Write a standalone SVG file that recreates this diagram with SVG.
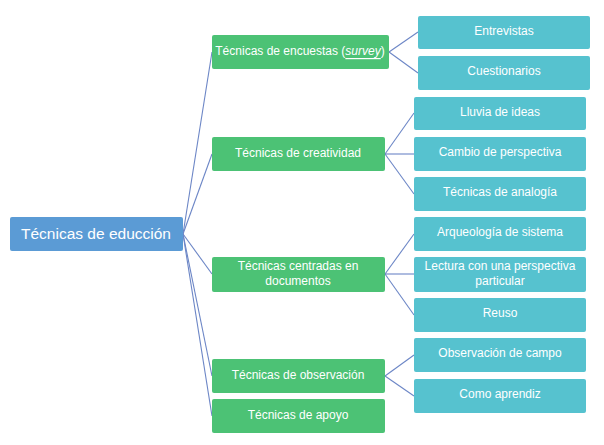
<svg xmlns="http://www.w3.org/2000/svg" width="604" height="445" viewBox="0 0 604 445">
<style>
.root{fill:#5B9BD5}
.g{fill:#4CC275}
.b{fill:#56C2CF}
text{font-family:"Liberation Sans",Arial,sans-serif;fill:#fff;text-anchor:middle;dominant-baseline:central}
.t{font-size:12px}
.rt{font-size:15.5px}
.sv{font-style:italic;text-decoration:underline wavy #D9534F}
#connectors line{stroke:#6C86C6;stroke-width:1.1;fill:none}
</style>
<rect width="604" height="445" fill="#fff"/>
<g id="connectors">
<line x1="183" y1="234" x2="212" y2="52"/>
<line x1="183" y1="234" x2="212" y2="154"/>
<line x1="183" y1="234" x2="212" y2="274"/>
<line x1="183" y1="234" x2="212" y2="376"/>
<line x1="183" y1="234" x2="212" y2="416"/>
<line x1="389" y1="52" x2="418" y2="32"/>
<line x1="389" y1="52" x2="418" y2="73"/>
<line x1="385" y1="154" x2="414" y2="113"/>
<line x1="385" y1="154" x2="414" y2="154"/>
<line x1="385" y1="154" x2="414" y2="194"/>
<line x1="385" y1="274" x2="414" y2="234"/>
<line x1="385" y1="274" x2="414" y2="274"/>
<line x1="385" y1="274" x2="414" y2="315"/>
<line x1="385" y1="376" x2="414" y2="355"/>
<line x1="385" y1="376" x2="414" y2="396"/>
</g>
<g id="root"><rect class="root" x="10" y="217" width="173" height="34" rx="2"/><text class="rt" x="96" y="233">Técnicas de educción</text></g>
<g id="encuestas"><rect class="g" x="212" y="35" width="177" height="34" rx="2"/><text class="t" x="300" y="51">Técnicas de encuestas (<tspan class="sv">survey</tspan>)</text></g>
<g id="creatividad"><rect class="g" x="212" y="137" width="173" height="34" rx="2"/><text class="t" x="298" y="153">Técnicas de creatividad</text></g>
<g id="documentos"><rect class="g" x="212" y="257" width="173" height="35" rx="2"/><text class="t" x="298" y="266">Técnicas centradas en</text><text class="t" x="298" y="281">documentos</text></g>
<g id="observacion"><rect class="g" x="212" y="359" width="173" height="34" rx="2"/><text class="t" x="298" y="375">Técnicas de observación</text></g>
<g id="apoyo"><rect class="g" x="212" y="399" width="173" height="34" rx="2"/><text class="t" x="298" y="415">Técnicas de apoyo</text></g>
<g id="entrevistas"><rect class="b" x="418" y="16" width="172" height="33" rx="2"/><text class="t" x="504" y="31">Entrevistas</text></g>
<g id="cuestionarios"><rect class="b" x="418" y="56" width="172" height="34" rx="2"/><text class="t" x="504" y="71">Cuestionarios</text></g>
<g id="lluvia"><rect class="b" x="414" y="97" width="172" height="33" rx="2"/><text class="t" x="500" y="112">Lluvia de ideas</text></g>
<g id="cambio"><rect class="b" x="414" y="137" width="172" height="34" rx="2"/><text class="t" x="500" y="152">Cambio de perspectiva</text></g>
<g id="analogia"><rect class="b" x="414" y="177" width="172" height="34" rx="2"/><text class="t" x="500" y="192">Técnicas de analogía</text></g>
<g id="arqueologia"><rect class="b" x="414" y="217" width="172" height="34" rx="2"/><text class="t" x="500" y="232">Arqueología de sistema</text></g>
<g id="lectura"><rect class="b" x="414" y="257" width="172" height="35" rx="2"/><text class="t" x="500" y="266">Lectura con una perspectiva</text><text class="t" x="500" y="281">particular</text></g>
<g id="reuso"><rect class="b" x="414" y="298" width="172" height="34" rx="2"/><text class="t" x="500" y="313">Reuso</text></g>
<g id="campo"><rect class="b" x="414" y="338" width="172" height="34" rx="2"/><text class="t" x="500" y="353">Observación de campo</text></g>
<g id="aprendiz"><rect class="b" x="414" y="379" width="172" height="34" rx="2"/><text class="t" x="500" y="394">Como aprendiz</text></g>
</svg>
